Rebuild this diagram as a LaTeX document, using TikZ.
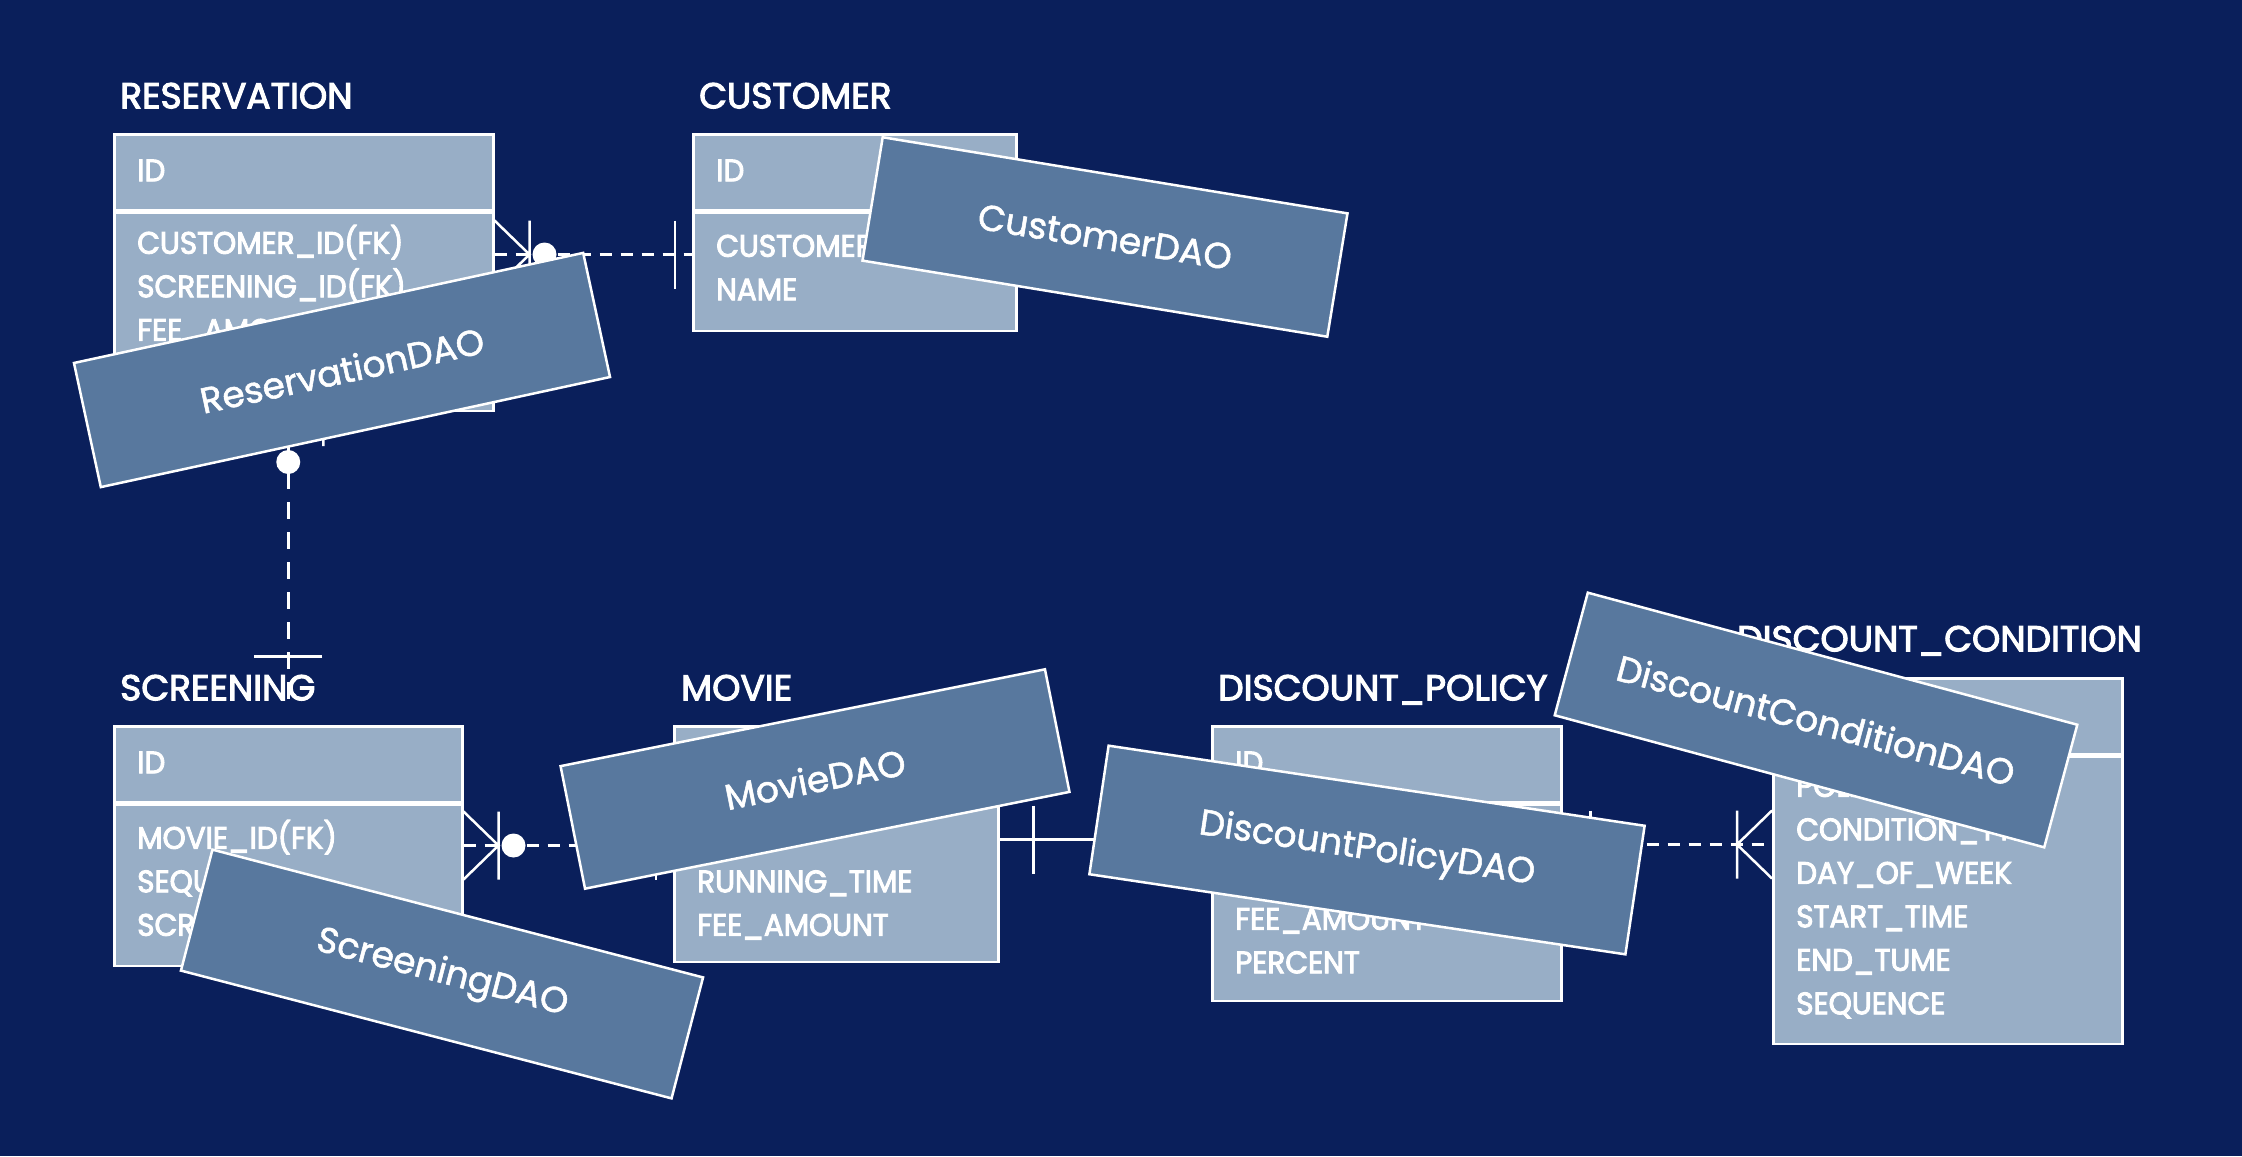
\documentclass[tikz,border=0pt]{standalone}
\usepackage{fontspec}
\setmainfont{Poppins}[FakeBold=1.5]
\newfontfamily\tblfont{Poppins}[FakeStretch=0.95,FakeBold=3]
\newfontfamily\ttlfont{Poppins}[FakeBold=3]
\usetikzlibrary{positioning,calc}
\definecolor{navy}{RGB}{10,31,91}
\definecolor{tblfill}{RGB}{152,174,198}
\definecolor{daofill}{RGB}{88,120,158}

\tikzset{
  one/.pic={\draw[white,line width=2.5pt] (0,-34) -- (0,34);},
  many/.pic={\draw[white,line width=2.5pt] (0,-34) -- (35,0) -- (0,34) (35,-34) -- (35,34);},
  zmany/.pic={\pic{many}; \fill[white] (50,0) circle (12pt);}
}

\begin{document}
\begin{tikzpicture}[x=1pt, y=-1pt,
    ttl/.style={inner sep=0pt, text=white, text height=25pt, text depth=0pt,
      font=\ttlfont\fontsize{36}{40}\selectfont},
    hdr/.style={draw=white, fill=tblfill, line width=2.5pt, anchor=north west,
      inner xsep=23pt, inner ysep=0pt, text width=#1, align=left, text=white,
      text height=47pt, text depth=29pt, font=\tblfont\fontsize{31}{43.5}\selectfont},
    bdy/.style={hdr=#1, text height=44pt},
    dao/.style={draw=white, fill=daofill, line width=2.5pt, text=white,
      font=\fontsize{36}{40}\selectfont},
    link/.style={white, line width=2.5pt, dash pattern=on 12pt off 9pt},
    rel/.style={white, line width=2.5pt}
  ]
  \fill[navy] (0,0) rectangle (2242,1156);

  % tables
  \node[hdr=333pt] (resH) at (113,133) {ID};
  \node[bdy=333pt, below=0pt of resH, text height=41pt, text depth=157pt] (resB) {CUSTOMER\_ID(FK)\\SCREENING\_ID(FK)\\FEE\_AMOUNT};
  \node[ttl, above right=24.5pt and 7pt of resH.north west] (resT) {RESERVATION};

  \node[hdr=277pt] (cusH) at (692,133) {ID};
  \node[bdy=277pt, below=0pt of cusH, text depth=74pt] (cusB) {CUSTOMER\_ID\\NAME};
  \node[ttl, above right=24.5pt and 7pt of cusH.north west] (cusT) {CUSTOMER};

  \node[hdr=302pt] (scrH) at (113,725) {ID};
  \node[bdy=302pt, below=0pt of scrH, text depth=117pt] (scrB) {MOVIE\_ID(FK)\\SEQUENCE\\SCREENING\_TIME};
  \node[ttl, above right=24.5pt and 7pt of scrH.north west] (scrT) {SCREENING};

  \node[hdr=278pt] (movH) at (673,725) {};
  \node[bdy=278pt, below=0pt of movH, text height=87.5pt, text depth=69.5pt] (movB) {RUNNING\_TIME\\FEE\_AMOUNT};
  \node[ttl, above right=24.5pt and 8pt of movH.north west] (movT) {MOVIE};

  \node[hdr=303pt] (dpH) at (1211,725) {ID};
  \node[bdy=303pt, below=0pt of dpH, text height=125pt, text depth=71pt] (dpB) {FEE\_AMOUNT\\PERCENT};
  \node[ttl, above right=24.5pt and 7pt of dpH.north west] (dpT) {DISCOUNT\_POLICY};

  \node[hdr=303pt] (dcH) at (1772,677) {};
  \node[bdy=303pt, below=0pt of dcH, text height=40pt, text depth=247pt] (dcB) {POLICY\_ID(FK)\\CONDITION\_TYPE\\DAY\_OF\_WEEK\\START\_TIME\\END\_TUME\\SEQUENCE};
  \node[ttl, above right=25.5pt and -35pt of dcH.north west] (dcT) {DISCOUNT\_CONDITION};

  % relations
  \coordinate (a1) at ($(resB.north east)+(0,43)$);
  \coordinate (a2) at (cusB.west |- a1);
  \draw[link] (a1) -- (a2);
  \pic at (a1) {zmany};
  \pic at ($(a2)+(-17,0)$) {one};

  \coordinate (b1) at (scrH.north |- resB.south);
  \coordinate (b2) at (scrH.north |- scrT.south);
  \draw[link, dash pattern=on 17pt off 13pt] (b1) -- (b2);
  \pic[rotate=-90] at (b1) {zmany};
  \pic[rotate=-90] at ($(b2)+(0,-44)$) {one};

  \coordinate (c1) at ($(scrB.north east)+(0,42)$);
  \coordinate (c2) at (movB.west |- c1);
  \draw[link] (c1) -- (c2);
  \pic at (c1) {zmany};
  \pic at ($(c2)+(-17,0)$) {one};

  \coordinate (d1) at ($(movB.north east)+(0,36)$);
  \coordinate (d2) at (dpB.west |- d1);
  \draw[rel] (d1) -- (d2);
  \pic at ($(d1)+(34,0)$) {one};
  \pic at ($(d2)+(-34,0)$) {one};

  \coordinate (e1) at ($(dpB.north east)+(0,41)$);
  \coordinate (e2) at (dcB.west |- e1);
  \draw[link] (e1) -- (e2);
  \pic at ($(e1)+(28,0)$) {one};
  \pic[rotate=180] at (e2) {many};

  % DAO labels
  \node[dao, minimum width=521pt, minimum height=127pt, rotate=12.2] (resD) at (342,370) {ReservationDAO};
  \node[dao, minimum width=471pt, minimum height=125pt, rotate=-9.3] (cusD) at (1105,237) {CustomerDAO};
  \node[dao, minimum width=507pt, minimum height=125pt, rotate=-14.6] (scrD) at (442,974) {ScreeningDAO};
  \node[dao, minimum width=494pt, minimum height=125pt, rotate=11.3] (movD) at (815,779) {MovieDAO};
  \node[dao, minimum width=542pt, minimum height=130pt, rotate=-8.5] (dpD) at (1367,850) {DiscountPolicyDAO};
  \node[dao, minimum width=507pt, minimum height=127pt, rotate=-15.1] (dcD) at (1816,720) {DiscountConditionDAO};
\end{tikzpicture}
\end{document}
